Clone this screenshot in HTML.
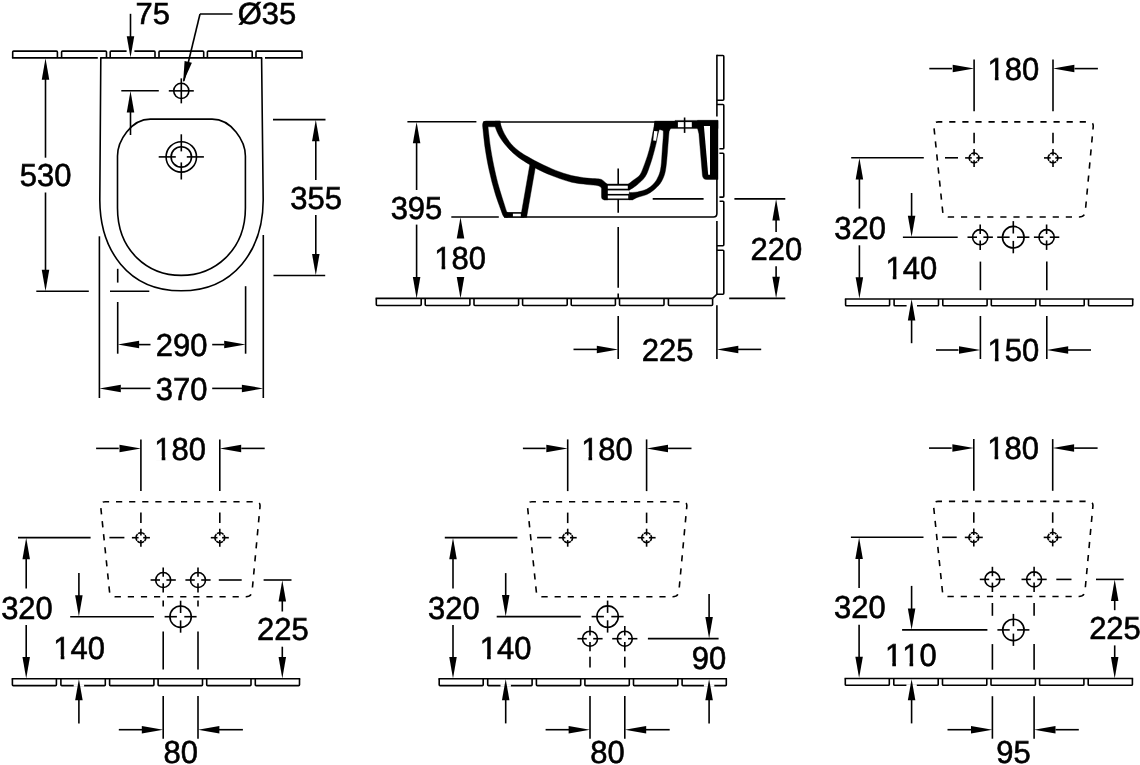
<!DOCTYPE html>
<html><head><meta charset="utf-8"><title>Bidet dimensions</title>
<style>
html,body{margin:0;padding:0;background:#fff;}
body{width:1140px;height:765px;overflow:hidden;}
svg{display:block;will-change:transform;filter:grayscale(1);}
svg *{vector-effect:none;}
.d line,.d path,.d rect,.d circle{fill:none;stroke:#000;stroke-width:1.6;}
.d text{font-family:"Liberation Sans",sans-serif;font-size:31.8px;fill:#000;stroke:#000;stroke-width:0.6;text-anchor:middle;text-rendering:geometricPrecision;font-kerning:none;font-feature-settings:"kern" 0;}
.d .f{fill:#000;stroke:none;}
.d .fk{fill:#000;stroke:#000;stroke-width:0.4;}
.d .w{fill:#fff;stroke:none;}
.d .tk{stroke-width:5.5;fill:none;}
.d .tk2{stroke-width:5.8;fill:none;stroke-linejoin:round;}
.d .tk5{stroke-width:5;fill:none;}
.d .tk48{stroke-width:4.8;fill:none;stroke-linejoin:round;}
.d .tk52{stroke-width:5.2;fill:none;}
.d .tk6{stroke-width:6;fill:none;}
</style></head>
<body>
<svg class="d" width="1140" height="765" viewBox="0 0 1140 765">
<defs><clipPath id="cs"><rect x="470" y="100" width="260" height="117.6"/></clipPath></defs>
<rect x="0" y="0" width="1140" height="765" style="fill:#fff;stroke:none"/>
<path d="M12.70,57.90 L12.70,52.00 Q12.70,51.10 13.60,51.10 L56.50,51.10 Q57.40,51.10 57.40,52.00 L57.40,57.90"/>
<path d="M61.60,57.90 L61.60,52.00 Q61.60,51.10 62.50,51.10 L105.60,51.10 Q106.50,51.10 106.50,52.00 L106.50,57.90"/>
<path d="M110.20,57.90 L110.20,52.00 Q110.20,51.10 111.10,51.10 L154.10,51.10 Q155.00,51.10 155.00,52.00 L155.00,57.90"/>
<path d="M159.00,57.90 L159.00,52.00 Q159.00,51.10 159.90,51.10 L202.80,51.10 Q203.70,51.10 203.70,52.00 L203.70,57.90"/>
<path d="M207.40,57.90 L207.40,52.00 Q207.40,51.10 208.30,51.10 L251.30,51.10 Q252.20,51.10 252.20,52.00 L252.20,57.90"/>
<path d="M256.00,57.90 L256.00,52.00 Q256.00,51.10 256.90,51.10 L301.10,51.10 Q302.00,51.10 302.00,52.00 L302.00,57.90"/>
<line x1="11.95" y1="57.90" x2="97.80" y2="57.90"/>
<line x1="265.00" y1="57.90" x2="302.75" y2="57.90"/>
<rect class="w" x="126.60" y="49.50" width="7.80" height="3.20"/>
<line x1="100.10" y1="57.90" x2="262.30" y2="57.90"/>
<path d="M100.8,58 L99.8,200 C100,250 128,290.8 181.2,290.8 C234,290.8 263,250 263.2,200 L261.6,58"/>
<path d="M181.2,119.1 L212.1,119.1 C231.5,119.1 245.4,141 245.4,156 L245.4,208 C245.4,251 214,275.4 181.2,275.4 C148,275.4 117.5,251 117.5,208 L117.5,156 C117.5,141 131,119.1 150.3,119.1 Z"/>
<circle cx="181.30" cy="90.85" r="7.60"/>
<line x1="168.80" y1="90.85" x2="193.80" y2="90.85"/>
<line x1="181.30" y1="78.35" x2="181.30" y2="103.35"/>
<circle cx="181.30" cy="156.90" r="15.20"/>
<circle cx="181.30" cy="156.90" r="10.20"/>
<line x1="158.70" y1="156.90" x2="175.80" y2="156.90"/>
<line x1="186.80" y1="156.90" x2="203.90" y2="156.90"/>
<line x1="181.30" y1="134.30" x2="181.30" y2="151.40"/>
<line x1="181.30" y1="162.40" x2="181.30" y2="179.50"/>
<line x1="130.50" y1="13.80" x2="130.50" y2="40.00"/>
<polygon class="f" points="130.50,57.60 126.75,36.20 134.25,36.20"/>
<line x1="121.30" y1="90.80" x2="158.80" y2="90.80"/>
<polygon class="f" points="130.50,91.00 126.75,112.40 134.25,112.40"/>
<line x1="130.50" y1="110.00" x2="130.50" y2="135.00"/>
<text transform="translate(152.70,24.30) scale(1.012,1)" style="font-size:30.6px">75</text>
<line x1="232.50" y1="14.00" x2="200.00" y2="14.00"/>
<line x1="200.00" y1="14.00" x2="183.80" y2="81.00"/>
<polygon class="f" points="183.1,82.4 184.6,60.9 191.9,62.7"/>
<text transform="translate(267.00,23.90) scale(1.012,1)" style="font-size:30.6px">Ø35</text>
<line x1="45.50" y1="78.00" x2="45.50" y2="157.70"/>
<polygon class="f" points="45.50,58.30 41.75,79.70 49.25,79.70"/>
<line x1="45.50" y1="192.50" x2="45.50" y2="271.00"/>
<polygon class="f" points="45.50,291.20 41.75,269.80 49.25,269.80"/>
<line x1="36.30" y1="291.20" x2="88.80" y2="291.20"/>
<line x1="110.00" y1="291.20" x2="149.30" y2="291.20"/>
<text transform="translate(45.60,185.80) scale(0.975,1)">530</text>
<line x1="273.00" y1="119.60" x2="325.50" y2="119.60"/>
<polygon class="f" points="315.80,119.80 312.05,141.20 319.55,141.20"/>
<line x1="315.80" y1="140.00" x2="315.80" y2="180.00"/>
<line x1="315.80" y1="215.00" x2="315.80" y2="255.00"/>
<polygon class="f" points="315.80,275.30 312.05,253.90 319.55,253.90"/>
<line x1="273.50" y1="275.50" x2="325.20" y2="275.50"/>
<text transform="translate(316.20,208.80) scale(0.975,1)">355</text>
<line x1="117.70" y1="268.80" x2="117.70" y2="282.60"/>
<line x1="117.70" y1="302.00" x2="117.70" y2="353.70"/>
<line x1="245.60" y1="286.20" x2="245.60" y2="353.70"/>
<line x1="99.40" y1="236.30" x2="99.40" y2="398.00"/>
<line x1="263.30" y1="235.00" x2="263.30" y2="398.00"/>
<polygon class="f" points="117.70,344.60 139.10,340.85 139.10,348.35"/>
<line x1="139.00" y1="344.60" x2="150.50" y2="344.60"/>
<line x1="212.20" y1="344.60" x2="224.00" y2="344.60"/>
<polygon class="f" points="245.60,344.60 224.20,340.85 224.20,348.35"/>
<text transform="translate(181.60,356.20) scale(0.975,1)">290</text>
<polygon class="f" points="99.40,388.40 120.80,384.65 120.80,392.15"/>
<line x1="121.00" y1="388.40" x2="150.50" y2="388.40"/>
<line x1="212.20" y1="388.40" x2="242.00" y2="388.40"/>
<polygon class="f" points="263.30,388.40 241.90,384.65 241.90,392.15"/>
<text transform="translate(181.60,399.90) scale(0.975,1)">370</text>
<path d="M376.30,298.40 L376.30,304.60 Q376.30,305.50 377.20,305.50 L420.30,305.50 Q421.20,305.50 421.20,304.60 L421.20,298.40"/>
<path d="M425.20,298.40 L425.20,304.60 Q425.20,305.50 426.10,305.50 L469.00,305.50 Q469.90,305.50 469.90,304.60 L469.90,298.40"/>
<path d="M474.00,298.40 L474.00,304.60 Q474.00,305.50 474.90,305.50 L517.70,305.50 Q518.60,305.50 518.60,304.60 L518.60,298.40"/>
<path d="M522.60,298.40 L522.60,304.60 Q522.60,305.50 523.50,305.50 L566.30,305.50 Q567.20,305.50 567.20,304.60 L567.20,298.40"/>
<path d="M571.20,298.40 L571.20,304.60 Q571.20,305.50 572.10,305.50 L614.50,305.50 Q615.40,305.50 615.40,304.60 L615.40,298.40"/>
<path d="M619.50,298.40 L619.50,304.60 Q619.50,305.50 620.40,305.50 L663.10,305.50 Q664.00,305.50 664.00,304.60 L664.00,298.40"/>
<path d="M668.40,298.40 L668.40,304.60 Q668.40,305.50 669.30,305.50 L711.70,305.50 Q712.60,305.50 712.60,304.60 L712.60,298.40"/>
<line x1="375.55" y1="298.40" x2="712.60" y2="298.40"/>
<path d="M716.90,55.50 L722.90,55.50 Q723.80,55.50 723.80,56.40 L723.80,99.30 Q723.80,100.20 722.90,100.20 L716.90,100.20"/>
<path d="M716.90,104.50 L722.90,104.50 Q723.80,104.50 723.80,105.40 L723.80,147.90 Q723.80,148.80 722.90,148.80 L719.40,148.80"/>
<path d="M719.40,153.30 L722.90,153.30 Q723.80,153.30 723.80,154.20 L723.80,196.20 Q723.80,197.10 722.90,197.10 L719.40,197.10"/>
<path d="M719.60,201.20 L722.90,201.20 Q723.80,201.20 723.80,202.10 L723.80,244.80 Q723.80,245.70 722.90,245.70 L716.90,245.70"/>
<path d="M716.90,250.20 L722.90,250.20 Q723.80,250.20 723.80,251.10 L723.80,293.30 Q723.80,294.20 722.90,294.20 L716.90,294.20"/>
<line x1="716.90" y1="54.75" x2="716.90" y2="116.60"/>
<line x1="716.90" y1="221.00" x2="716.90" y2="294.20"/>
<line x1="716.90" y1="294.20" x2="712.60" y2="298.40"/>
<line x1="483.50" y1="122.00" x2="656.00" y2="122.00"/>
<path d="M504,217 L713.5,217 Q716.9,217 716.9,213.6 L716.9,179"/>
<line x1="618.20" y1="168.40" x2="618.20" y2="212.80"/>
<line x1="618.20" y1="227.00" x2="618.20" y2="287.80"/>
<line x1="618.20" y1="293.50" x2="618.20" y2="298.50"/>
<line x1="618.20" y1="316.00" x2="618.20" y2="359.00"/>
<g clip-path="url(#cs)">
<path d="M486,121 L500.2,121 L500.2,126.8 L488,126.8  C488.47,130.75 489.68,142.33 490.80,149.50 C491.92,156.67 493.30,163.58 494.70,170.00 C496.10,176.42 497.20,181.03 499.20,188.00 C501.20,194.97 505.45,207.83 506.70,211.80 L507.5,212.2 L507.5,218 L505.9,218 Q503.7,217.6 502.7,214.9 L502.70,214.90 C501.42,211.25 497.23,200.32 495.00,193.00 C492.77,185.68 490.92,178.25 489.30,171.00 C487.68,163.75 486.42,157.00 485.30,149.50 C484.18,142.00 483.05,129.92 482.60,126.00 L482.6,124.4 Q482.6,121 486,121 Z" class="fk"/>
<path d="M499.90,122.00 C500.35,123.33 501.48,127.40 502.60,130.00 C503.72,132.60 505.23,135.35 506.60,137.60 C507.97,139.85 509.23,141.65 510.80,143.50 C512.37,145.35 514.05,147.02 516.00,148.70 C517.95,150.38 520.13,152.03 522.50,153.60 C524.87,155.17 527.28,156.48 530.20,158.10 C533.12,159.72 535.75,161.25 540.00,163.30 C544.25,165.35 550.47,168.37 555.70,170.40 C560.93,172.43 566.17,174.22 571.40,175.50 C576.63,176.78 582.83,177.55 587.10,178.10 C591.37,178.65 594.75,178.62 597.00,178.80 C599.25,178.98 599.62,178.93 600.60,179.20 C601.58,179.47 601.70,179.50 602.90,180.40 C604.10,181.30 606.98,183.90 607.80,184.60 L607.8,199.9 L604.4,199.9 Q601.6,199.7 601.5,197.1 L601.50,190.00 C601.45,189.63 601.78,188.52 601.20,187.80 C600.62,187.08 600.35,186.25 598.00,185.70 C595.65,185.15 591.53,185.08 587.10,184.50 C582.67,183.92 576.63,183.43 571.40,182.20 C566.17,180.97 560.93,179.07 555.70,177.10 C550.47,175.13 544.37,172.50 540.00,170.40 C535.63,168.30 533.10,166.67 529.50,164.50 C525.90,162.33 521.40,159.57 518.40,157.40 C515.40,155.23 513.47,153.35 511.50,151.50 C509.53,149.65 508.18,148.13 506.60,146.30 C505.02,144.47 503.32,142.33 502.00,140.50 C500.68,138.67 499.62,136.97 498.70,135.30 C497.78,133.63 497.10,131.95 496.50,130.50 C495.90,129.05 495.33,127.25 495.10,126.60 L495.1,121.2 L499.9,121.2 Z" class="fk"/>
<path d="M530.0,163.5 L535.5,166.5 L526.5,218 L520.5,218 Z" class="fk"/>
<rect class="fk" x="506" y="212.2" width="18" height="5.6"/>
<rect class="w" x="512.9" y="213.7" width="7.9" height="2.6"/>
<rect class="fk" x="604" y="184" width="25" height="15.9"/>
<rect class="w" x="607.8" y="185.7" width="20.5" height="3.0"/>
<rect class="w" x="607.8" y="190.4" width="21.2" height="3.5"/>
<rect class="w" x="607.8" y="195.5" width="20.5" height="3.0"/>
<path d="M628.00,184.40 C628.92,183.68 631.53,181.67 633.50,180.10 C635.47,178.53 638.10,177.28 639.80,175.00 C641.50,172.72 642.40,169.67 643.70,166.40 C645.00,163.13 646.48,158.93 647.60,155.40 C648.72,151.87 649.60,148.60 650.40,145.20 C651.20,141.80 651.68,138.70 652.40,135.00 C653.12,131.30 654.32,125.00 654.70,123.00 L660.5,123 L660.10,127.00 C659.72,128.33 658.43,132.37 657.80,135.00 C657.17,137.63 657.02,139.67 656.30,142.80 C655.58,145.93 654.48,150.27 653.50,153.80 C652.52,157.33 651.77,160.20 650.40,164.00 C649.03,167.80 647.58,173.07 645.30,176.60 C643.02,180.13 639.32,182.98 636.70,185.20 C634.08,187.42 630.78,189.12 629.60,189.90 L628,189.9 Z" class="fk"/>
<path d="M654.1,130.9 L657.6,131.3 L656.1,140.8 L653.2,140.4 Z" class="w"/>
<path d="M629.20,192.60 C630.58,192.48 634.55,192.48 637.50,191.90 C640.45,191.32 644.17,190.48 646.90,189.10 C649.63,187.72 651.95,185.82 653.90,183.60 C655.85,181.38 657.42,178.67 658.60,175.80 C659.78,172.93 660.40,170.58 661.00,166.40 C661.60,162.22 661.82,155.93 662.20,150.70 C662.58,145.47 663.17,138.95 663.30,135.00 C663.43,131.05 663.05,128.33 663.00,127.00 L663,123 L669.7,123 L669.40,130.00 C669.30,130.83 669.10,131.55 668.80,135.00 C668.50,138.45 668.05,145.47 667.60,150.70 C667.15,155.93 666.68,162.22 666.10,166.40 C665.52,170.58 665.08,172.93 664.10,175.80 C663.12,178.67 661.90,181.25 660.20,183.60 C658.50,185.95 656.12,188.08 653.90,189.90 C651.68,191.72 649.65,193.25 646.90,194.50 C644.15,195.75 639.78,196.50 637.40,197.40 C635.02,198.30 633.40,199.48 632.60,199.90 L629,199.9 Z" class="fk"/>
<path d="M654.6,121.1 L675,121.1 L675,120.4 L718,120.4 L718,128.6 L697.6,128.6 L671.5,128.6 Q669.8,128.8 669.5,130.5 L663,130.5 L654.4,128 Z" class="fk"/>
<rect class="w" x="677.9" y="122.1" width="13.9" height="5.1"/>
<path d="M697.5,128.2 L698.9,133.7 L702.4,175.3 Q702.9,179.5 706.6,179.5 L718,179.5 L718,120.4 L697.5,120.4 Z" class="fk"/>
<path d="M703.9,126 L710,126 L710,174.7 L708.2,174.7 Z" class="w"/>
</g>
<line x1="684.60" y1="117.50" x2="684.60" y2="132.90"/>
<line x1="407.40" y1="121.70" x2="476.40" y2="121.70"/>
<polygon class="f" points="416.60,121.90 412.85,143.30 420.35,143.30"/>
<line x1="416.60" y1="142.00" x2="416.60" y2="190.00"/>
<line x1="416.60" y1="224.60" x2="416.60" y2="278.00"/>
<polygon class="f" points="416.60,298.40 412.85,277.00 420.35,277.00"/>
<text transform="translate(416.50,218.70) scale(0.975,1)">395</text>
<line x1="451.30" y1="217.00" x2="498.80" y2="217.00"/>
<polygon class="f" points="460.50,217.20 456.75,238.60 464.25,238.60"/>
<polygon class="f" points="460.50,298.40 456.75,277.00 464.25,277.00"/>
<text transform="translate(460.10,269.30) scale(0.975,1)">180</text>
<rect class="w" x="435.03" y="265.81" width="6.55" height="4.92"/>
<rect class="w" x="445.24" y="265.81" width="6.20" height="4.92"/>
<line x1="652.70" y1="198.90" x2="703.60" y2="198.90"/>
<line x1="734.40" y1="198.90" x2="785.30" y2="198.90"/>
<line x1="729.20" y1="298.40" x2="785.30" y2="298.40"/>
<polygon class="f" points="776.10,199.10 772.35,220.50 779.85,220.50"/>
<line x1="776.10" y1="220.00" x2="776.10" y2="232.00"/>
<line x1="776.10" y1="266.30" x2="776.10" y2="278.00"/>
<polygon class="f" points="776.10,298.20 772.35,276.80 779.85,276.80"/>
<text transform="translate(776.40,260.40) scale(0.975,1)">220</text>
<line x1="716.90" y1="305.30" x2="716.90" y2="359.00"/>
<line x1="573.50" y1="349.40" x2="597.00" y2="349.40"/>
<polygon class="f" points="618.20,349.40 596.80,345.65 596.80,353.15"/>
<polygon class="f" points="716.90,349.40 738.30,345.65 738.30,353.15"/>
<line x1="738.00" y1="349.40" x2="761.20" y2="349.40"/>
<text transform="translate(667.60,360.70) scale(0.975,1)">225</text>
<line x1="929.30" y1="68.60" x2="952.00" y2="68.60"/>
<polygon class="f" points="974.10,68.60 952.70,64.85 952.70,72.35"/>
<polygon class="f" points="1053.00,68.60 1074.40,64.85 1074.40,72.35"/>
<line x1="1074.50" y1="68.60" x2="1097.90" y2="68.60"/>
<line x1="974.10" y1="59.60" x2="974.10" y2="111.30"/>
<line x1="1053.00" y1="59.60" x2="1053.00" y2="111.30"/>
<text transform="translate(1013.40,79.70) scale(0.975,1)">180</text>
<rect class="w" x="988.33" y="76.21" width="6.55" height="4.92"/>
<rect class="w" x="998.54" y="76.21" width="6.20" height="4.92"/>
<path transform="translate(0.00,0.00)" stroke-dasharray="6.2 6.9" d="M1014.2,121.9 L1088.8,121.9 Q1093.7,121.9 1093.2,126.8 L1085.3,211.5 Q1084.7,217 1079.2,217 L948.8,217 Q943.3,217 942.7,211.5 L933.9,126.8 Q933.4,121.9 938.3,121.9 Z"/>
<line x1="974.10" y1="132.80" x2="974.10" y2="143.30"/>
<line x1="1053.00" y1="132.80" x2="1053.00" y2="143.30"/>
<circle cx="974.10" cy="157.90" r="4.90" stroke-dasharray="7.1 0.6" stroke-dashoffset="3.55"/>
<line x1="965.10" y1="157.90" x2="971.80" y2="157.90"/>
<line x1="976.40" y1="157.90" x2="983.10" y2="157.90"/>
<line x1="974.10" y1="148.90" x2="974.10" y2="155.60"/>
<line x1="974.10" y1="160.20" x2="974.10" y2="166.90"/>
<circle cx="1053.00" cy="157.90" r="4.90" stroke-dasharray="7.1 0.6" stroke-dashoffset="3.55"/>
<line x1="1044.00" y1="157.90" x2="1050.70" y2="157.90"/>
<line x1="1055.30" y1="157.90" x2="1062.00" y2="157.90"/>
<line x1="1053.00" y1="148.90" x2="1053.00" y2="155.60"/>
<line x1="1053.00" y1="160.20" x2="1053.00" y2="166.90"/>
<line x1="851.20" y1="157.80" x2="923.80" y2="157.80"/>
<line x1="945.00" y1="157.80" x2="958.00" y2="157.80"/>
<polygon class="f" points="859.40,158.00 855.65,179.40 863.15,179.40"/>
<line x1="859.40" y1="179.00" x2="859.40" y2="208.60"/>
<line x1="859.40" y1="245.30" x2="859.40" y2="278.00"/>
<polygon class="f" points="859.40,298.60 855.65,277.20 863.15,277.20"/>
<text transform="translate(860.20,238.70) scale(0.975,1)">320</text>
<path d="M845.60,299.00 L845.60,304.90 Q845.60,305.80 846.50,305.80 L888.70,305.80 Q889.60,305.80 889.60,304.90 L889.60,299.00"/>
<path d="M894.10,299.00 L894.10,304.90 Q894.10,305.80 895.00,305.80 L937.60,305.80 Q938.50,305.80 938.50,304.90 L938.50,299.00"/>
<path d="M942.80,299.00 L942.80,304.90 Q942.80,305.80 943.70,305.80 L986.20,305.80 Q987.10,305.80 987.10,304.90 L987.10,299.00"/>
<path d="M991.30,299.00 L991.30,304.90 Q991.30,305.80 992.20,305.80 L1034.80,305.80 Q1035.70,305.80 1035.70,304.90 L1035.70,299.00"/>
<path d="M1039.90,299.00 L1039.90,304.90 Q1039.90,305.80 1040.80,305.80 L1083.30,305.80 Q1084.20,305.80 1084.20,304.90 L1084.20,299.00"/>
<path d="M1088.50,299.00 L1088.50,304.90 Q1088.50,305.80 1089.40,305.80 L1131.80,305.80 Q1132.70,305.80 1132.70,304.90 L1132.70,299.00"/>
<line x1="844.85" y1="299.00" x2="1133.45" y2="299.00"/>
<line x1="911.60" y1="193.00" x2="911.60" y2="216.00"/>
<polygon class="f" points="911.60,237.10 907.85,215.70 915.35,215.70"/>
<line x1="902.90" y1="237.20" x2="957.70" y2="237.20"/>
<rect class="w" x="906.60" y="304.40" width="10.40" height="2.60"/>
<polygon class="f" points="911.60,299.10 907.85,320.50 915.35,320.50"/>
<line x1="911.60" y1="320.00" x2="911.60" y2="343.20"/>
<text transform="translate(911.30,279.10) scale(0.975,1)">140</text>
<rect class="w" x="886.23" y="275.61" width="6.55" height="4.92"/>
<rect class="w" x="896.44" y="275.61" width="6.20" height="4.92"/>
<circle cx="980.20" cy="237.20" r="7.60"/>
<line x1="967.50" y1="237.20" x2="977.00" y2="237.20"/>
<line x1="983.40" y1="237.20" x2="992.90" y2="237.20"/>
<line x1="980.20" y1="224.50" x2="980.20" y2="234.00"/>
<line x1="980.20" y1="240.40" x2="980.20" y2="249.90"/>
<circle cx="1013.30" cy="237.20" r="10.80"/>
<line x1="997.20" y1="237.20" x2="1009.60" y2="237.20"/>
<line x1="1017.00" y1="237.20" x2="1029.40" y2="237.20"/>
<line x1="1013.30" y1="221.10" x2="1013.30" y2="233.50"/>
<line x1="1013.30" y1="240.90" x2="1013.30" y2="253.30"/>
<circle cx="1046.60" cy="237.20" r="7.60"/>
<line x1="1033.90" y1="237.20" x2="1043.40" y2="237.20"/>
<line x1="1049.80" y1="237.20" x2="1059.30" y2="237.20"/>
<line x1="1046.60" y1="224.50" x2="1046.60" y2="234.00"/>
<line x1="1046.60" y1="240.40" x2="1046.60" y2="249.90"/>
<line x1="980.40" y1="261.60" x2="980.40" y2="290.20"/>
<line x1="980.40" y1="316.00" x2="980.40" y2="359.00"/>
<line x1="1046.80" y1="261.60" x2="1046.80" y2="290.20"/>
<line x1="1046.80" y1="316.00" x2="1046.80" y2="359.00"/>
<line x1="936.00" y1="350.00" x2="958.50" y2="350.00"/>
<polygon class="f" points="980.40,350.00 959.00,346.25 959.00,353.75"/>
<polygon class="f" points="1046.80,350.00 1068.20,346.25 1068.20,353.75"/>
<line x1="1068.00" y1="350.00" x2="1091.00" y2="350.00"/>
<text transform="translate(1013.40,361.10) scale(0.975,1)">150</text>
<rect class="w" x="988.33" y="357.61" width="6.55" height="4.92"/>
<rect class="w" x="998.54" y="357.61" width="6.20" height="4.92"/>
<line x1="96.10" y1="448.40" x2="118.80" y2="448.40"/>
<polygon class="f" points="140.90,448.40 119.50,444.65 119.50,452.15"/>
<polygon class="f" points="219.80,448.40 241.20,444.65 241.20,452.15"/>
<line x1="241.30" y1="448.40" x2="264.70" y2="448.40"/>
<line x1="140.90" y1="439.40" x2="140.90" y2="491.10"/>
<line x1="219.80" y1="439.40" x2="219.80" y2="491.10"/>
<text transform="translate(180.20,459.50) scale(0.975,1)">180</text>
<rect class="w" x="155.13" y="456.01" width="6.55" height="4.92"/>
<rect class="w" x="165.34" y="456.01" width="6.20" height="4.92"/>
<path transform="translate(-833.20,379.80)" stroke-dasharray="6.2 6.9" d="M1014.2,121.9 L1088.8,121.9 Q1093.7,121.9 1093.2,126.8 L1085.3,211.5 Q1084.7,217 1079.2,217 L948.8,217 Q943.3,217 942.7,211.5 L933.9,126.8 Q933.4,121.9 938.3,121.9 Z"/>
<line x1="140.90" y1="512.60" x2="140.90" y2="523.10"/>
<line x1="219.80" y1="512.60" x2="219.80" y2="523.10"/>
<circle cx="140.90" cy="537.70" r="4.90" stroke-dasharray="7.1 0.6" stroke-dashoffset="3.55"/>
<line x1="131.90" y1="537.70" x2="138.60" y2="537.70"/>
<line x1="143.20" y1="537.70" x2="149.90" y2="537.70"/>
<line x1="140.90" y1="528.70" x2="140.90" y2="535.40"/>
<line x1="140.90" y1="540.00" x2="140.90" y2="546.70"/>
<circle cx="219.80" cy="537.70" r="4.90" stroke-dasharray="7.1 0.6" stroke-dashoffset="3.55"/>
<line x1="210.80" y1="537.70" x2="217.50" y2="537.70"/>
<line x1="222.10" y1="537.70" x2="228.80" y2="537.70"/>
<line x1="219.80" y1="528.70" x2="219.80" y2="535.40"/>
<line x1="219.80" y1="540.00" x2="219.80" y2="546.70"/>
<line x1="18.00" y1="537.60" x2="90.60" y2="537.60"/>
<line x1="109.40" y1="537.60" x2="124.40" y2="537.60"/>
<polygon class="f" points="26.20,537.80 22.45,559.20 29.95,559.20"/>
<line x1="26.20" y1="558.80" x2="26.20" y2="588.40"/>
<line x1="26.20" y1="625.10" x2="26.20" y2="657.80"/>
<polygon class="f" points="26.20,678.40 22.45,657.00 29.95,657.00"/>
<text transform="translate(27.00,618.50) scale(0.975,1)">320</text>
<path d="M12.40,678.80 L12.40,684.70 Q12.40,685.60 13.30,685.60 L55.50,685.60 Q56.40,685.60 56.40,684.70 L56.40,678.80"/>
<path d="M60.90,678.80 L60.90,684.70 Q60.90,685.60 61.80,685.60 L104.40,685.60 Q105.30,685.60 105.30,684.70 L105.30,678.80"/>
<path d="M109.60,678.80 L109.60,684.70 Q109.60,685.60 110.50,685.60 L153.00,685.60 Q153.90,685.60 153.90,684.70 L153.90,678.80"/>
<path d="M158.10,678.80 L158.10,684.70 Q158.10,685.60 159.00,685.60 L201.60,685.60 Q202.50,685.60 202.50,684.70 L202.50,678.80"/>
<path d="M206.70,678.80 L206.70,684.70 Q206.70,685.60 207.60,685.60 L250.10,685.60 Q251.00,685.60 251.00,684.70 L251.00,678.80"/>
<path d="M255.30,678.80 L255.30,684.70 Q255.30,685.60 256.20,685.60 L298.60,685.60 Q299.50,685.60 299.50,684.70 L299.50,678.80"/>
<line x1="11.65" y1="678.80" x2="300.25" y2="678.80"/>
<line x1="78.90" y1="573.10" x2="78.90" y2="596.00"/>
<polygon class="f" points="78.90,616.60 75.15,595.20 82.65,595.20"/>
<line x1="70.20" y1="616.70" x2="153.90" y2="616.70"/>
<rect class="w" x="73.70" y="684.20" width="10.40" height="2.60"/>
<polygon class="f" points="78.90,678.90 75.15,700.30 82.65,700.30"/>
<line x1="78.90" y1="700.00" x2="78.90" y2="723.40"/>
<text transform="translate(79.20,658.70) scale(0.975,1)">140</text>
<rect class="w" x="54.13" y="655.21" width="6.55" height="4.92"/>
<rect class="w" x="64.34" y="655.21" width="6.20" height="4.92"/>
<circle cx="163.20" cy="580.00" r="7.50"/>
<line x1="150.60" y1="580.00" x2="160.00" y2="580.00"/>
<line x1="166.40" y1="580.00" x2="175.80" y2="580.00"/>
<line x1="163.20" y1="567.40" x2="163.20" y2="576.80"/>
<line x1="163.20" y1="583.20" x2="163.20" y2="592.60"/>
<line x1="163.20" y1="600.40" x2="163.20" y2="606.60"/>
<line x1="163.20" y1="631.60" x2="163.20" y2="669.50"/>
<line x1="163.20" y1="696.00" x2="163.20" y2="738.70"/>
<circle cx="198.00" cy="580.00" r="7.50"/>
<line x1="185.40" y1="580.00" x2="194.80" y2="580.00"/>
<line x1="201.20" y1="580.00" x2="210.60" y2="580.00"/>
<line x1="198.00" y1="567.40" x2="198.00" y2="576.80"/>
<line x1="198.00" y1="583.20" x2="198.00" y2="592.60"/>
<line x1="198.00" y1="600.40" x2="198.00" y2="606.60"/>
<line x1="198.00" y1="631.60" x2="198.00" y2="669.50"/>
<line x1="198.00" y1="696.00" x2="198.00" y2="738.70"/>
<circle cx="180.60" cy="616.70" r="10.70"/>
<line x1="164.60" y1="616.70" x2="176.90" y2="616.70"/>
<line x1="184.30" y1="616.70" x2="196.60" y2="616.70"/>
<line x1="180.60" y1="600.70" x2="180.60" y2="613.00"/>
<line x1="180.60" y1="620.40" x2="180.60" y2="632.70"/>
<line x1="218.80" y1="580.00" x2="241.70" y2="580.00"/>
<line x1="263.60" y1="580.00" x2="291.50" y2="580.00"/>
<polygon class="f" points="282.30,580.20 278.55,601.60 286.05,601.60"/>
<line x1="282.30" y1="601.00" x2="282.30" y2="611.50"/>
<line x1="282.30" y1="646.70" x2="282.30" y2="658.00"/>
<polygon class="f" points="282.30,678.50 278.55,657.10 286.05,657.10"/>
<text transform="translate(282.80,639.50) scale(0.975,1)">225</text>
<line x1="118.80" y1="729.70" x2="142.00" y2="729.70"/>
<polygon class="f" points="163.20,729.70 141.80,725.95 141.80,733.45"/>
<polygon class="f" points="198.00,729.70 219.40,725.95 219.40,733.45"/>
<line x1="219.00" y1="729.70" x2="242.90" y2="729.70"/>
<text transform="translate(180.70,762.70) scale(0.975,1)">80</text>
<line x1="522.90" y1="448.40" x2="545.60" y2="448.40"/>
<polygon class="f" points="567.70,448.40 546.30,444.65 546.30,452.15"/>
<polygon class="f" points="646.60,448.40 668.00,444.65 668.00,452.15"/>
<line x1="668.10" y1="448.40" x2="691.50" y2="448.40"/>
<line x1="567.70" y1="439.40" x2="567.70" y2="491.10"/>
<line x1="646.60" y1="439.40" x2="646.60" y2="491.10"/>
<text transform="translate(607.00,459.50) scale(0.975,1)">180</text>
<rect class="w" x="581.93" y="456.01" width="6.55" height="4.92"/>
<rect class="w" x="592.14" y="456.01" width="6.20" height="4.92"/>
<path transform="translate(-406.40,379.80)" stroke-dasharray="6.2 6.9" d="M1014.2,121.9 L1088.8,121.9 Q1093.7,121.9 1093.2,126.8 L1085.3,211.5 Q1084.7,217 1079.2,217 L948.8,217 Q943.3,217 942.7,211.5 L933.9,126.8 Q933.4,121.9 938.3,121.9 Z"/>
<line x1="567.70" y1="512.60" x2="567.70" y2="523.10"/>
<line x1="646.60" y1="512.60" x2="646.60" y2="523.10"/>
<circle cx="567.70" cy="537.70" r="4.90" stroke-dasharray="7.1 0.6" stroke-dashoffset="3.55"/>
<line x1="558.70" y1="537.70" x2="565.40" y2="537.70"/>
<line x1="570.00" y1="537.70" x2="576.70" y2="537.70"/>
<line x1="567.70" y1="528.70" x2="567.70" y2="535.40"/>
<line x1="567.70" y1="540.00" x2="567.70" y2="546.70"/>
<circle cx="646.60" cy="537.70" r="4.90" stroke-dasharray="7.1 0.6" stroke-dashoffset="3.55"/>
<line x1="637.60" y1="537.70" x2="644.30" y2="537.70"/>
<line x1="648.90" y1="537.70" x2="655.60" y2="537.70"/>
<line x1="646.60" y1="528.70" x2="646.60" y2="535.40"/>
<line x1="646.60" y1="540.00" x2="646.60" y2="546.70"/>
<line x1="444.80" y1="537.60" x2="517.40" y2="537.60"/>
<line x1="537.10" y1="537.60" x2="551.40" y2="537.60"/>
<polygon class="f" points="453.00,537.80 449.25,559.20 456.75,559.20"/>
<line x1="453.00" y1="558.80" x2="453.00" y2="588.40"/>
<line x1="453.00" y1="625.10" x2="453.00" y2="657.80"/>
<polygon class="f" points="453.00,678.40 449.25,657.00 456.75,657.00"/>
<text transform="translate(453.80,618.50) scale(0.975,1)">320</text>
<path d="M439.20,678.80 L439.20,684.70 Q439.20,685.60 440.10,685.60 L482.30,685.60 Q483.20,685.60 483.20,684.70 L483.20,678.80"/>
<path d="M487.70,678.80 L487.70,684.70 Q487.70,685.60 488.60,685.60 L531.20,685.60 Q532.10,685.60 532.10,684.70 L532.10,678.80"/>
<path d="M536.40,678.80 L536.40,684.70 Q536.40,685.60 537.30,685.60 L579.80,685.60 Q580.70,685.60 580.70,684.70 L580.70,678.80"/>
<path d="M584.90,678.80 L584.90,684.70 Q584.90,685.60 585.80,685.60 L628.40,685.60 Q629.30,685.60 629.30,684.70 L629.30,678.80"/>
<path d="M633.50,678.80 L633.50,684.70 Q633.50,685.60 634.40,685.60 L676.90,685.60 Q677.80,685.60 677.80,684.70 L677.80,678.80"/>
<path d="M682.10,678.80 L682.10,684.70 Q682.10,685.60 683.00,685.60 L725.40,685.60 Q726.30,685.60 726.30,684.70 L726.30,678.80"/>
<line x1="438.45" y1="678.80" x2="727.05" y2="678.80"/>
<line x1="505.70" y1="573.10" x2="505.70" y2="596.00"/>
<polygon class="f" points="505.70,616.50 501.95,595.10 509.45,595.10"/>
<line x1="496.70" y1="616.60" x2="580.80" y2="616.60"/>
<rect class="w" x="500.50" y="684.20" width="10.40" height="2.60"/>
<polygon class="f" points="505.70,678.90 501.95,700.30 509.45,700.30"/>
<line x1="505.70" y1="700.00" x2="505.70" y2="723.40"/>
<text transform="translate(505.60,658.70) scale(0.975,1)">140</text>
<rect class="w" x="480.53" y="655.21" width="6.55" height="4.92"/>
<rect class="w" x="490.74" y="655.21" width="6.20" height="4.92"/>
<circle cx="607.60" cy="616.60" r="10.70"/>
<line x1="591.60" y1="616.60" x2="603.90" y2="616.60"/>
<line x1="611.30" y1="616.60" x2="623.60" y2="616.60"/>
<line x1="607.60" y1="600.60" x2="607.60" y2="612.90"/>
<line x1="607.60" y1="620.30" x2="607.60" y2="632.60"/>
<circle cx="590.00" cy="638.70" r="7.50"/>
<line x1="577.40" y1="638.70" x2="586.80" y2="638.70"/>
<line x1="593.20" y1="638.70" x2="602.60" y2="638.70"/>
<line x1="590.00" y1="626.10" x2="590.00" y2="635.50"/>
<line x1="590.00" y1="641.90" x2="590.00" y2="651.30"/>
<line x1="590.00" y1="656.80" x2="590.00" y2="667.40"/>
<line x1="590.00" y1="696.00" x2="590.00" y2="738.70"/>
<circle cx="624.80" cy="638.70" r="7.50"/>
<line x1="612.20" y1="638.70" x2="621.60" y2="638.70"/>
<line x1="628.00" y1="638.70" x2="637.40" y2="638.70"/>
<line x1="624.80" y1="626.10" x2="624.80" y2="635.50"/>
<line x1="624.80" y1="641.90" x2="624.80" y2="651.30"/>
<line x1="624.80" y1="656.80" x2="624.80" y2="667.40"/>
<line x1="624.80" y1="696.00" x2="624.80" y2="738.70"/>
<line x1="647.90" y1="638.60" x2="718.60" y2="638.60"/>
<line x1="709.10" y1="594.00" x2="709.10" y2="618.00"/>
<polygon class="f" points="709.10,638.50 705.35,617.10 712.85,617.10"/>
<rect class="w" x="703.90" y="684.20" width="10.40" height="2.60"/>
<polygon class="f" points="709.10,678.90 705.35,700.30 712.85,700.30"/>
<line x1="709.10" y1="700.00" x2="709.10" y2="723.40"/>
<text transform="translate(709.00,668.90) scale(0.975,1)">90</text>
<line x1="545.60" y1="729.70" x2="569.00" y2="729.70"/>
<polygon class="f" points="590.00,729.70 568.60,725.95 568.60,733.45"/>
<polygon class="f" points="624.80,729.70 646.20,725.95 646.20,733.45"/>
<line x1="646.00" y1="729.70" x2="669.70" y2="729.70"/>
<text transform="translate(607.50,762.70) scale(0.975,1)">80</text>
<line x1="929.00" y1="448.10" x2="951.70" y2="448.10"/>
<polygon class="f" points="973.80,448.10 952.40,444.35 952.40,451.85"/>
<polygon class="f" points="1052.70,448.10 1074.10,444.35 1074.10,451.85"/>
<line x1="1074.20" y1="448.10" x2="1097.60" y2="448.10"/>
<line x1="973.80" y1="439.10" x2="973.80" y2="490.80"/>
<line x1="1052.70" y1="439.10" x2="1052.70" y2="490.80"/>
<text transform="translate(1013.10,459.20) scale(0.975,1)">180</text>
<rect class="w" x="988.03" y="455.71" width="6.55" height="4.92"/>
<rect class="w" x="998.24" y="455.71" width="6.20" height="4.92"/>
<path transform="translate(-0.30,379.50)" stroke-dasharray="6.2 6.9" d="M1014.2,121.9 L1088.8,121.9 Q1093.7,121.9 1093.2,126.8 L1085.3,211.5 Q1084.7,217 1079.2,217 L948.8,217 Q943.3,217 942.7,211.5 L933.9,126.8 Q933.4,121.9 938.3,121.9 Z"/>
<line x1="973.80" y1="512.30" x2="973.80" y2="522.80"/>
<line x1="1052.70" y1="512.30" x2="1052.70" y2="522.80"/>
<circle cx="973.80" cy="537.40" r="4.90" stroke-dasharray="7.1 0.6" stroke-dashoffset="3.55"/>
<line x1="964.80" y1="537.40" x2="971.50" y2="537.40"/>
<line x1="976.10" y1="537.40" x2="982.80" y2="537.40"/>
<line x1="973.80" y1="528.40" x2="973.80" y2="535.10"/>
<line x1="973.80" y1="539.70" x2="973.80" y2="546.40"/>
<circle cx="1052.70" cy="537.40" r="4.90" stroke-dasharray="7.1 0.6" stroke-dashoffset="3.55"/>
<line x1="1043.70" y1="537.40" x2="1050.40" y2="537.40"/>
<line x1="1055.00" y1="537.40" x2="1061.70" y2="537.40"/>
<line x1="1052.70" y1="528.40" x2="1052.70" y2="535.10"/>
<line x1="1052.70" y1="539.70" x2="1052.70" y2="546.40"/>
<line x1="850.90" y1="537.30" x2="923.50" y2="537.30"/>
<line x1="942.20" y1="537.30" x2="956.70" y2="537.30"/>
<polygon class="f" points="859.10,537.50 855.35,558.90 862.85,558.90"/>
<line x1="859.10" y1="558.50" x2="859.10" y2="588.10"/>
<line x1="859.10" y1="624.80" x2="859.10" y2="657.50"/>
<polygon class="f" points="859.10,678.10 855.35,656.70 862.85,656.70"/>
<text transform="translate(859.90,618.20) scale(0.975,1)">320</text>
<path d="M845.30,678.50 L845.30,684.40 Q845.30,685.30 846.20,685.30 L888.40,685.30 Q889.30,685.30 889.30,684.40 L889.30,678.50"/>
<path d="M893.80,678.50 L893.80,684.40 Q893.80,685.30 894.70,685.30 L937.30,685.30 Q938.20,685.30 938.20,684.40 L938.20,678.50"/>
<path d="M942.50,678.50 L942.50,684.40 Q942.50,685.30 943.40,685.30 L985.90,685.30 Q986.80,685.30 986.80,684.40 L986.80,678.50"/>
<path d="M991.00,678.50 L991.00,684.40 Q991.00,685.30 991.90,685.30 L1034.50,685.30 Q1035.40,685.30 1035.40,684.40 L1035.40,678.50"/>
<path d="M1039.60,678.50 L1039.60,684.40 Q1039.60,685.30 1040.50,685.30 L1083.00,685.30 Q1083.90,685.30 1083.90,684.40 L1083.90,678.50"/>
<path d="M1088.20,678.50 L1088.20,684.40 Q1088.20,685.30 1089.10,685.30 L1131.50,685.30 Q1132.40,685.30 1132.40,684.40 L1132.40,678.50"/>
<line x1="844.55" y1="678.50" x2="1133.15" y2="678.50"/>
<line x1="911.60" y1="585.90" x2="911.60" y2="610.00"/>
<polygon class="f" points="911.60,629.80 907.85,608.40 915.35,608.40"/>
<line x1="902.10" y1="629.90" x2="987.40" y2="629.90"/>
<rect class="w" x="906.40" y="684.20" width="10.40" height="2.60"/>
<polygon class="f" points="911.60,678.90 907.85,700.30 915.35,700.30"/>
<line x1="911.60" y1="700.00" x2="911.60" y2="723.40"/>
<text transform="translate(910.80,665.70) scale(0.975,1)">110</text>
<rect class="w" x="885.73" y="662.21" width="6.55" height="4.92"/>
<rect class="w" x="895.94" y="662.21" width="6.20" height="4.92"/>
<rect class="w" x="902.98" y="662.21" width="6.55" height="4.92"/>
<rect class="w" x="913.18" y="662.21" width="6.20" height="4.92"/>
<circle cx="992.40" cy="579.40" r="7.50"/>
<line x1="979.80" y1="579.40" x2="989.20" y2="579.40"/>
<line x1="995.60" y1="579.40" x2="1005.00" y2="579.40"/>
<line x1="992.40" y1="566.80" x2="992.40" y2="576.20"/>
<line x1="992.40" y1="582.60" x2="992.40" y2="592.00"/>
<line x1="992.40" y1="603.00" x2="992.40" y2="615.80"/>
<line x1="992.40" y1="644.10" x2="992.40" y2="669.70"/>
<line x1="992.40" y1="696.20" x2="992.40" y2="738.70"/>
<circle cx="1034.10" cy="579.40" r="7.50"/>
<line x1="1021.50" y1="579.40" x2="1030.90" y2="579.40"/>
<line x1="1037.30" y1="579.40" x2="1046.70" y2="579.40"/>
<line x1="1034.10" y1="566.80" x2="1034.10" y2="576.20"/>
<line x1="1034.10" y1="582.60" x2="1034.10" y2="592.00"/>
<line x1="1034.10" y1="603.00" x2="1034.10" y2="615.80"/>
<line x1="1034.10" y1="644.10" x2="1034.10" y2="669.70"/>
<line x1="1034.10" y1="696.20" x2="1034.10" y2="738.70"/>
<circle cx="1013.40" cy="629.90" r="10.70"/>
<line x1="997.40" y1="629.90" x2="1009.70" y2="629.90"/>
<line x1="1017.10" y1="629.90" x2="1029.40" y2="629.90"/>
<line x1="1013.40" y1="613.90" x2="1013.40" y2="626.20"/>
<line x1="1013.40" y1="633.60" x2="1013.40" y2="645.90"/>
<line x1="1056.30" y1="579.40" x2="1071.50" y2="579.40"/>
<line x1="1096.00" y1="579.40" x2="1123.70" y2="579.40"/>
<polygon class="f" points="1114.70,579.60 1110.95,601.00 1118.45,601.00"/>
<line x1="1114.70" y1="601.00" x2="1114.70" y2="610.20"/>
<line x1="1114.70" y1="645.40" x2="1114.70" y2="658.00"/>
<polygon class="f" points="1114.70,678.50 1110.95,657.10 1118.45,657.10"/>
<text transform="translate(1115.00,639.30) scale(0.975,1)">225</text>
<line x1="947.50" y1="729.70" x2="971.00" y2="729.70"/>
<polygon class="f" points="992.40,729.70 971.00,725.95 971.00,733.45"/>
<polygon class="f" points="1034.10,729.70 1055.50,725.95 1055.50,733.45"/>
<line x1="1055.50" y1="729.70" x2="1078.80" y2="729.70"/>
<text transform="translate(1013.60,762.70) scale(0.975,1)">95</text>
</svg>
</body></html>
